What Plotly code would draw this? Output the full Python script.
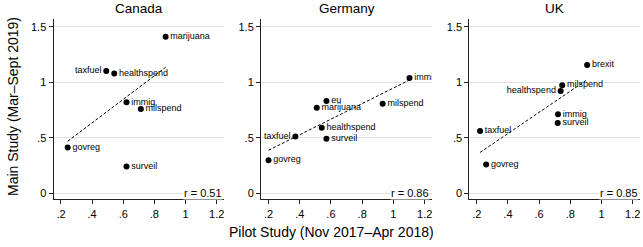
import numpy as np
import plotly.graph_objects as go

# ---------------- data ----------------
countries = ["Canada", "Germany", "UK"]

canada_items = ["marijuana", "taxfuel", "healthspend", "immig", "milspend", "govreg", "surveil"]
canada_pilot = [0.872, 0.491, 0.542, 0.621, 0.713, 0.243, 0.621]
canada_main = [1.41, 1.10, 1.078, 0.819, 0.759, 0.413, 0.241]

germany_items = ["immig", "eu", "marijuana", "milspend", "healthspend", "taxfuel", "surveil", "govreg"]
germany_pilot = [1.103, 0.571, 0.509, 0.931, 0.541, 0.372, 0.571, 0.200]
germany_main = [1.039, 0.831, 0.771, 0.807, 0.590, 0.512, 0.491, 0.298]

uk_items = ["brexit", "milspend", "healthspend", "immig", "surveil", "taxfuel", "govreg"]
uk_pilot = [0.908, 0.748, 0.738, 0.721, 0.719, 0.221, 0.260]
uk_main = [1.154, 0.973, 0.922, 0.711, 0.633, 0.560, 0.259]

r_labels = ["r = 0.51", "r = 0.86", "r = 0.85"]

x_tickvals = [0.2, 0.4, 0.6, 0.8, 1.0, 1.2]
x_ticktext = [".2", ".4", ".6", ".8", "1", "1.2"]
y_tickvals = [0, 0.5, 1, 1.5]
y_ticktext = ["0", ".5", "1", "1.5"]

x_title = "Pilot Study (Nov 2017\u2013Apr 2018)"
y_title = "Main Study (Mar\u2013Sept 2019)"

# labels drawn to the left of their marker
left_labels = {"Canada": {"taxfuel"}, "Germany": {"taxfuel"}, "UK": {"healthspend"}}

# ---------------- layout constants ----------------
W, H = 643, 247
FONT = "Liberation Sans, Arial, Helvetica, sans-serif"
panel_px = [(53.5, 224.0), (261.0, 432.0), (469.3, 640.0)]
y_top_px, y_bot_px = 19.0, 199.3
xrange_ = [0.152, 1.247]
yrange_ = [-0.054, 1.569]

data_sets = [
    (canada_items, canada_pilot, canada_main),
    (germany_items, germany_pilot, germany_main),
    (uk_items, uk_pilot, uk_main),
]

fig = go.Figure()
layout = dict(
    width=W, height=H,
    margin=dict(l=0, r=0, t=0, b=0),
    paper_bgcolor="white", plot_bgcolor="white",
    showlegend=False,
    font=dict(family=FONT, color="black"),
    annotations=[],
)

ydom = [(H - y_bot_px) / H, (H - y_top_px) / H]

for i, (country, (items, px, py)) in enumerate(zip(countries, data_sets)):
    n = i + 1
    xa = "x" if n == 1 else f"x{n}"
    ya = "y" if n == 1 else f"y{n}"
    xdom = [panel_px[i][0] / W, panel_px[i][1] / W]

    layout["xaxis" if n == 1 else f"xaxis{n}"] = dict(
        domain=xdom, range=xrange_, anchor=ya,
        showgrid=False, zeroline=False,
        showline=True, linecolor="#222", linewidth=1,
        ticks="outside", ticklen=4, tickwidth=1, tickcolor="#222",
        tickvals=x_tickvals, ticktext=x_ticktext,
        tickfont=dict(size=11, family=FONT, color="black"),
        fixedrange=True,
    )
    layout["yaxis" if n == 1 else f"yaxis{n}"] = dict(
        domain=ydom, range=yrange_, anchor=xa,
        showgrid=True, gridcolor="#e2e2e2", gridwidth=1, zeroline=False,
        showline=True, linecolor="#222", linewidth=1,
        ticks="outside", ticklen=4, tickwidth=1, tickcolor="#222",
        tickvals=y_tickvals, ticktext=y_ticktext,
        tickfont=dict(size=11, family=FONT, color="black"),
        fixedrange=True,
    )

    # linear fit over the observed range
    xs = np.array(px)
    ys = np.array(py)
    slope, intercept = np.polyfit(xs, ys, 1)
    fx = np.array([xs.min(), xs.max()])
    fig.add_trace(go.Scatter(
        x=fx, y=slope * fx + intercept, mode="lines",
        line=dict(color="black", width=1, dash="3px,2px"),
        xaxis=xa, yaxis=ya, hoverinfo="skip",
    ))

    positions = ["middle left" if it in left_labels[country] else "middle right" for it in items]
    fig.add_trace(go.Scatter(
        x=px, y=py, mode="markers+text", text=items,
        textposition=positions,
        textfont=dict(size=9, family=FONT, color="black"),
        marker=dict(color="black", size=6),
        cliponaxis=True,
        xaxis=xa, yaxis=ya,
    ))

    # panel title
    layout["annotations"].append(dict(
        text=country, xref="paper", yref="paper",
        x=(xdom[0] + xdom[1]) / 2, y=1 - 8.5 / H,
        xanchor="center", yanchor="middle", showarrow=False,
        font=dict(size=13.5, family=FONT, color="black"),
    ))
    # correlation label
    layout["annotations"].append(dict(
        text=r_labels[i], xref="paper", yref=ya,
        x=xdom[1] - 1.5 / W, y=0,
        xanchor="right", yanchor="middle", showarrow=False,
        bgcolor="white", borderpad=0,
        font=dict(size=11, family=FONT, color="black"),
    ))

# shared axis titles
layout["annotations"].append(dict(
    text=x_title, xref="paper", yref="paper",
    x=331 / W, y=1 - 232 / H, xanchor="center", yanchor="middle",
    showarrow=False, font=dict(size=14, family=FONT, color="black"),
))
layout["annotations"].append(dict(
    text=y_title, xref="paper", yref="paper",
    x=13 / W, y=1 - 107 / H, xanchor="center", yanchor="middle",
    textangle=-90, showarrow=False,
    font=dict(size=14, family=FONT, color="black"),
))

fig.update_layout(**layout)
fig.write_html("out.html")
